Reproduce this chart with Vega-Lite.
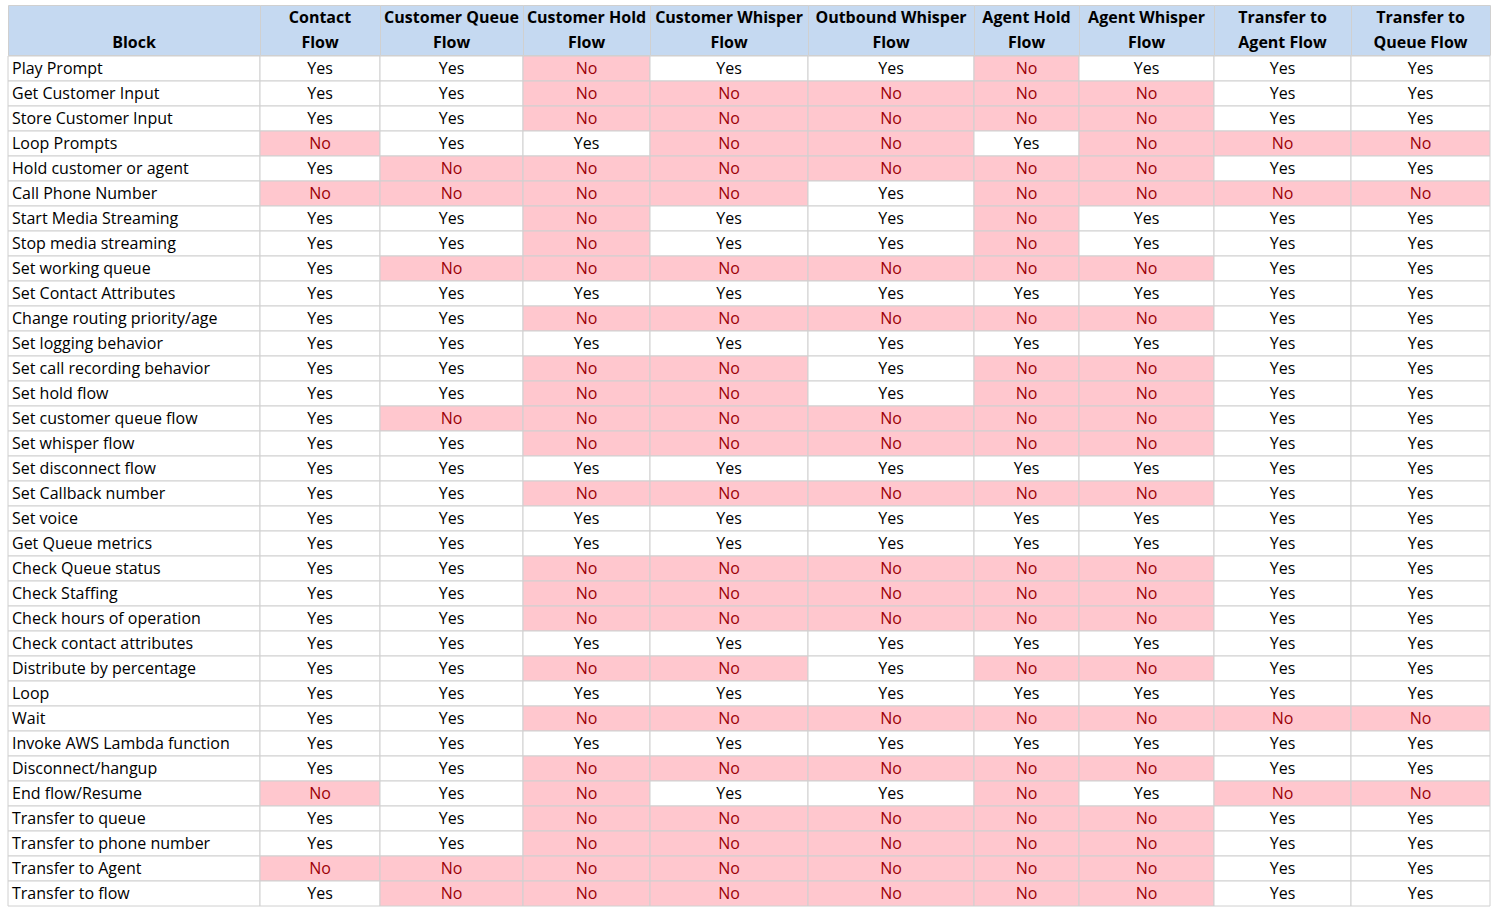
{
  "$schema": "https://vega.github.io/schema/vega-lite/v6.json",
  "padding": {"left": 7, "top": 4, "right": 0, "bottom": 0},
  "background": "white",
  "spacing": -2,
  "config": {
    "view": {"stroke": null},
    "concat": {"spacing": 0},
    "text": {"font": "Open Sans", "fontSize": 16}
  },
  "datasets": {
    "header": [
      {"Column": "Block", "Line": 2, "Text": "Block"},
      {"Column": "Contact Flow", "Line": 1, "Text": "Contact"},
      {"Column": "Contact Flow", "Line": 2, "Text": "Flow"},
      {"Column": "Customer Queue Flow", "Line": 1, "Text": "Customer Queue"},
      {"Column": "Customer Queue Flow", "Line": 2, "Text": "Flow"},
      {"Column": "Customer Hold Flow", "Line": 1, "Text": "Customer Hold"},
      {"Column": "Customer Hold Flow", "Line": 2, "Text": "Flow"},
      {"Column": "Customer Whisper Flow", "Line": 1, "Text": "Customer Whisper"},
      {"Column": "Customer Whisper Flow", "Line": 2, "Text": "Flow"},
      {"Column": "Outbound Whisper Flow", "Line": 1, "Text": "Outbound Whisper"},
      {"Column": "Outbound Whisper Flow", "Line": 2, "Text": "Flow"},
      {"Column": "Agent Hold Flow", "Line": 1, "Text": "Agent Hold"},
      {"Column": "Agent Hold Flow", "Line": 2, "Text": "Flow"},
      {"Column": "Agent Whisper Flow", "Line": 1, "Text": "Agent Whisper"},
      {"Column": "Agent Whisper Flow", "Line": 2, "Text": "Flow"},
      {"Column": "Transfer to Agent Flow", "Line": 1, "Text": "Transfer to"},
      {"Column": "Transfer to Agent Flow", "Line": 2, "Text": "Agent Flow"},
      {"Column": "Transfer to Queue Flow", "Line": 1, "Text": "Transfer to"},
      {"Column": "Transfer to Queue Flow", "Line": 2, "Text": "Queue Flow"}
    ],
    "table": [
      {"Block": "Play Prompt", "CF": "Yes", "CQ": "Yes", "CH": "No", "CW": "Yes", "OW": "Yes", "AH": "No", "AW": "Yes", "TA": "Yes", "TQ": "Yes"},
      {"Block": "Get Customer Input", "CF": "Yes", "CQ": "Yes", "CH": "No", "CW": "No", "OW": "No", "AH": "No", "AW": "No", "TA": "Yes", "TQ": "Yes"},
      {"Block": "Store Customer Input", "CF": "Yes", "CQ": "Yes", "CH": "No", "CW": "No", "OW": "No", "AH": "No", "AW": "No", "TA": "Yes", "TQ": "Yes"},
      {"Block": "Loop Prompts", "CF": "No", "CQ": "Yes", "CH": "Yes", "CW": "No", "OW": "No", "AH": "Yes", "AW": "No", "TA": "No", "TQ": "No"},
      {"Block": "Hold customer or agent", "CF": "Yes", "CQ": "No", "CH": "No", "CW": "No", "OW": "No", "AH": "No", "AW": "No", "TA": "Yes", "TQ": "Yes"},
      {"Block": "Call Phone Number", "CF": "No", "CQ": "No", "CH": "No", "CW": "No", "OW": "Yes", "AH": "No", "AW": "No", "TA": "No", "TQ": "No"},
      {"Block": "Start Media Streaming", "CF": "Yes", "CQ": "Yes", "CH": "No", "CW": "Yes", "OW": "Yes", "AH": "No", "AW": "Yes", "TA": "Yes", "TQ": "Yes"},
      {"Block": "Stop media streaming", "CF": "Yes", "CQ": "Yes", "CH": "No", "CW": "Yes", "OW": "Yes", "AH": "No", "AW": "Yes", "TA": "Yes", "TQ": "Yes"},
      {"Block": "Set working queue", "CF": "Yes", "CQ": "No", "CH": "No", "CW": "No", "OW": "No", "AH": "No", "AW": "No", "TA": "Yes", "TQ": "Yes"},
      {"Block": "Set Contact Attributes", "CF": "Yes", "CQ": "Yes", "CH": "Yes", "CW": "Yes", "OW": "Yes", "AH": "Yes", "AW": "Yes", "TA": "Yes", "TQ": "Yes"},
      {"Block": "Change routing priority/age", "CF": "Yes", "CQ": "Yes", "CH": "No", "CW": "No", "OW": "No", "AH": "No", "AW": "No", "TA": "Yes", "TQ": "Yes"},
      {"Block": "Set logging behavior", "CF": "Yes", "CQ": "Yes", "CH": "Yes", "CW": "Yes", "OW": "Yes", "AH": "Yes", "AW": "Yes", "TA": "Yes", "TQ": "Yes"},
      {"Block": "Set call recording behavior", "CF": "Yes", "CQ": "Yes", "CH": "No", "CW": "No", "OW": "Yes", "AH": "No", "AW": "No", "TA": "Yes", "TQ": "Yes"},
      {"Block": "Set hold flow", "CF": "Yes", "CQ": "Yes", "CH": "No", "CW": "No", "OW": "Yes", "AH": "No", "AW": "No", "TA": "Yes", "TQ": "Yes"},
      {"Block": "Set customer queue flow", "CF": "Yes", "CQ": "No", "CH": "No", "CW": "No", "OW": "No", "AH": "No", "AW": "No", "TA": "Yes", "TQ": "Yes"},
      {"Block": "Set whisper flow", "CF": "Yes", "CQ": "Yes", "CH": "No", "CW": "No", "OW": "No", "AH": "No", "AW": "No", "TA": "Yes", "TQ": "Yes"},
      {"Block": "Set disconnect flow", "CF": "Yes", "CQ": "Yes", "CH": "Yes", "CW": "Yes", "OW": "Yes", "AH": "Yes", "AW": "Yes", "TA": "Yes", "TQ": "Yes"},
      {"Block": "Set Callback number", "CF": "Yes", "CQ": "Yes", "CH": "No", "CW": "No", "OW": "No", "AH": "No", "AW": "No", "TA": "Yes", "TQ": "Yes"},
      {"Block": "Set voice", "CF": "Yes", "CQ": "Yes", "CH": "Yes", "CW": "Yes", "OW": "Yes", "AH": "Yes", "AW": "Yes", "TA": "Yes", "TQ": "Yes"},
      {"Block": "Get Queue metrics", "CF": "Yes", "CQ": "Yes", "CH": "Yes", "CW": "Yes", "OW": "Yes", "AH": "Yes", "AW": "Yes", "TA": "Yes", "TQ": "Yes"},
      {"Block": "Check Queue status", "CF": "Yes", "CQ": "Yes", "CH": "No", "CW": "No", "OW": "No", "AH": "No", "AW": "No", "TA": "Yes", "TQ": "Yes"},
      {"Block": "Check Staffing", "CF": "Yes", "CQ": "Yes", "CH": "No", "CW": "No", "OW": "No", "AH": "No", "AW": "No", "TA": "Yes", "TQ": "Yes"},
      {"Block": "Check hours of operation", "CF": "Yes", "CQ": "Yes", "CH": "No", "CW": "No", "OW": "No", "AH": "No", "AW": "No", "TA": "Yes", "TQ": "Yes"},
      {"Block": "Check contact attributes", "CF": "Yes", "CQ": "Yes", "CH": "Yes", "CW": "Yes", "OW": "Yes", "AH": "Yes", "AW": "Yes", "TA": "Yes", "TQ": "Yes"},
      {"Block": "Distribute by percentage", "CF": "Yes", "CQ": "Yes", "CH": "No", "CW": "No", "OW": "Yes", "AH": "No", "AW": "No", "TA": "Yes", "TQ": "Yes"},
      {"Block": "Loop", "CF": "Yes", "CQ": "Yes", "CH": "Yes", "CW": "Yes", "OW": "Yes", "AH": "Yes", "AW": "Yes", "TA": "Yes", "TQ": "Yes"},
      {"Block": "Wait", "CF": "Yes", "CQ": "Yes", "CH": "No", "CW": "No", "OW": "No", "AH": "No", "AW": "No", "TA": "No", "TQ": "No"},
      {"Block": "Invoke AWS Lambda function", "CF": "Yes", "CQ": "Yes", "CH": "Yes", "CW": "Yes", "OW": "Yes", "AH": "Yes", "AW": "Yes", "TA": "Yes", "TQ": "Yes"},
      {"Block": "Disconnect/hangup", "CF": "Yes", "CQ": "Yes", "CH": "No", "CW": "No", "OW": "No", "AH": "No", "AW": "No", "TA": "Yes", "TQ": "Yes"},
      {"Block": "End flow/Resume", "CF": "No", "CQ": "Yes", "CH": "No", "CW": "Yes", "OW": "Yes", "AH": "No", "AW": "Yes", "TA": "No", "TQ": "No"},
      {"Block": "Transfer to queue", "CF": "Yes", "CQ": "Yes", "CH": "No", "CW": "No", "OW": "No", "AH": "No", "AW": "No", "TA": "Yes", "TQ": "Yes"},
      {"Block": "Transfer to phone number", "CF": "Yes", "CQ": "Yes", "CH": "No", "CW": "No", "OW": "No", "AH": "No", "AW": "No", "TA": "Yes", "TQ": "Yes"},
      {"Block": "Transfer to Agent", "CF": "No", "CQ": "No", "CH": "No", "CW": "No", "OW": "No", "AH": "No", "AW": "No", "TA": "Yes", "TQ": "Yes"},
      {"Block": "Transfer to flow", "CF": "Yes", "CQ": "No", "CH": "No", "CW": "No", "OW": "No", "AH": "No", "AW": "No", "TA": "Yes", "TQ": "Yes"}
    ]
  },
  "vconcat": [
    {
      "bounds": "flush",
      "hconcat": [
        {"width": 252, "height": 50, "view": {"fill": "#c5d9f1", "stroke": "#d0d0d0"}, "data": {"name": "header"}, "transform": [{"filter": "datum.Column == 'Block'"}], "mark": {"type": "text", "fontWeight": "bold"}, "encoding": {"y": {"field": "Line", "type": "ordinal", "scale": {"domain": [1, 2]}, "axis": null}, "text": {"field": "Text"}}},
        {"width": 120, "height": 50, "view": {"fill": "#c5d9f1", "stroke": "#d0d0d0"}, "data": {"name": "header"}, "transform": [{"filter": "datum.Column == 'Contact Flow'"}], "mark": {"type": "text", "fontWeight": "bold"}, "encoding": {"y": {"field": "Line", "type": "ordinal", "scale": {"domain": [1, 2]}, "axis": null}, "text": {"field": "Text"}}},
        {"width": 143, "height": 50, "view": {"fill": "#c5d9f1", "stroke": "#d0d0d0"}, "data": {"name": "header"}, "transform": [{"filter": "datum.Column == 'Customer Queue Flow'"}], "mark": {"type": "text", "fontWeight": "bold"}, "encoding": {"y": {"field": "Line", "type": "ordinal", "scale": {"domain": [1, 2]}, "axis": null}, "text": {"field": "Text"}}},
        {"width": 127, "height": 50, "view": {"fill": "#c5d9f1", "stroke": "#d0d0d0"}, "data": {"name": "header"}, "transform": [{"filter": "datum.Column == 'Customer Hold Flow'"}], "mark": {"type": "text", "fontWeight": "bold"}, "encoding": {"y": {"field": "Line", "type": "ordinal", "scale": {"domain": [1, 2]}, "axis": null}, "text": {"field": "Text"}}},
        {"width": 158, "height": 50, "view": {"fill": "#c5d9f1", "stroke": "#d0d0d0"}, "data": {"name": "header"}, "transform": [{"filter": "datum.Column == 'Customer Whisper Flow'"}], "mark": {"type": "text", "fontWeight": "bold"}, "encoding": {"y": {"field": "Line", "type": "ordinal", "scale": {"domain": [1, 2]}, "axis": null}, "text": {"field": "Text"}}},
        {"width": 166, "height": 50, "view": {"fill": "#c5d9f1", "stroke": "#d0d0d0"}, "data": {"name": "header"}, "transform": [{"filter": "datum.Column == 'Outbound Whisper Flow'"}], "mark": {"type": "text", "fontWeight": "bold"}, "encoding": {"y": {"field": "Line", "type": "ordinal", "scale": {"domain": [1, 2]}, "axis": null}, "text": {"field": "Text"}}},
        {"width": 105, "height": 50, "view": {"fill": "#c5d9f1", "stroke": "#d0d0d0"}, "data": {"name": "header"}, "transform": [{"filter": "datum.Column == 'Agent Hold Flow'"}], "mark": {"type": "text", "fontWeight": "bold"}, "encoding": {"y": {"field": "Line", "type": "ordinal", "scale": {"domain": [1, 2]}, "axis": null}, "text": {"field": "Text"}}},
        {"width": 135, "height": 50, "view": {"fill": "#c5d9f1", "stroke": "#d0d0d0"}, "data": {"name": "header"}, "transform": [{"filter": "datum.Column == 'Agent Whisper Flow'"}], "mark": {"type": "text", "fontWeight": "bold"}, "encoding": {"y": {"field": "Line", "type": "ordinal", "scale": {"domain": [1, 2]}, "axis": null}, "text": {"field": "Text"}}},
        {"width": 137, "height": 50, "view": {"fill": "#c5d9f1", "stroke": "#d0d0d0"}, "data": {"name": "header"}, "transform": [{"filter": "datum.Column == 'Transfer to Agent Flow'"}], "mark": {"type": "text", "fontWeight": "bold"}, "encoding": {"y": {"field": "Line", "type": "ordinal", "scale": {"domain": [1, 2]}, "axis": null}, "text": {"field": "Text"}}},
        {"width": 139, "height": 50, "view": {"fill": "#c5d9f1", "stroke": "#d0d0d0"}, "data": {"name": "header"}, "transform": [{"filter": "datum.Column == 'Transfer to Queue Flow'"}], "mark": {"type": "text", "fontWeight": "bold"}, "encoding": {"y": {"field": "Line", "type": "ordinal", "scale": {"domain": [1, 2]}, "axis": null}, "text": {"field": "Text"}}}
      ]
    },
    {
      "bounds": "flush",
      "hconcat": [
        {"width": 252, "height": 850, "data": {"name": "table"}, "encoding": {"y": {"field": "Block", "type": "nominal", "sort": null, "axis": null}}, "layer": [
          {"mark": {"type": "rect", "fill": "white", "stroke": "#d0d0d0", "strokeWidth": 1}},
          {"mark": {"type": "text", "align": "left", "dx": -122}, "encoding": {"text": {"field": "Block"}}}
        ]},
        {"width": 120, "height": 850, "data": {"name": "table"}, "encoding": {"y": {"field": "Block", "type": "nominal", "sort": null, "axis": null}}, "layer": [
          {"mark": {"type": "rect", "stroke": "#d0d0d0", "strokeWidth": 1}, "encoding": {"color": {"field": "CF", "type": "nominal", "scale": {"domain": ["Yes", "No"], "range": ["#ffffff", "#ffc7ce"]}, "legend": null}}},
          {"mark": {"type": "text"}, "encoding": {"text": {"field": "CF"}, "color": {"field": "CF", "type": "nominal", "scale": {"domain": ["Yes", "No"], "range": ["#000000", "#9c0006"]}, "legend": null}}}
        ], "resolve": {"scale": {"color": "independent"}}},
        {"width": 143, "height": 850, "data": {"name": "table"}, "encoding": {"y": {"field": "Block", "type": "nominal", "sort": null, "axis": null}}, "layer": [
          {"mark": {"type": "rect", "stroke": "#d0d0d0", "strokeWidth": 1}, "encoding": {"color": {"field": "CQ", "type": "nominal", "scale": {"domain": ["Yes", "No"], "range": ["#ffffff", "#ffc7ce"]}, "legend": null}}},
          {"mark": {"type": "text"}, "encoding": {"text": {"field": "CQ"}, "color": {"field": "CQ", "type": "nominal", "scale": {"domain": ["Yes", "No"], "range": ["#000000", "#9c0006"]}, "legend": null}}}
        ], "resolve": {"scale": {"color": "independent"}}},
        {"width": 127, "height": 850, "data": {"name": "table"}, "encoding": {"y": {"field": "Block", "type": "nominal", "sort": null, "axis": null}}, "layer": [
          {"mark": {"type": "rect", "stroke": "#d0d0d0", "strokeWidth": 1}, "encoding": {"color": {"field": "CH", "type": "nominal", "scale": {"domain": ["Yes", "No"], "range": ["#ffffff", "#ffc7ce"]}, "legend": null}}},
          {"mark": {"type": "text"}, "encoding": {"text": {"field": "CH"}, "color": {"field": "CH", "type": "nominal", "scale": {"domain": ["Yes", "No"], "range": ["#000000", "#9c0006"]}, "legend": null}}}
        ], "resolve": {"scale": {"color": "independent"}}},
        {"width": 158, "height": 850, "data": {"name": "table"}, "encoding": {"y": {"field": "Block", "type": "nominal", "sort": null, "axis": null}}, "layer": [
          {"mark": {"type": "rect", "stroke": "#d0d0d0", "strokeWidth": 1}, "encoding": {"color": {"field": "CW", "type": "nominal", "scale": {"domain": ["Yes", "No"], "range": ["#ffffff", "#ffc7ce"]}, "legend": null}}},
          {"mark": {"type": "text"}, "encoding": {"text": {"field": "CW"}, "color": {"field": "CW", "type": "nominal", "scale": {"domain": ["Yes", "No"], "range": ["#000000", "#9c0006"]}, "legend": null}}}
        ], "resolve": {"scale": {"color": "independent"}}},
        {"width": 166, "height": 850, "data": {"name": "table"}, "encoding": {"y": {"field": "Block", "type": "nominal", "sort": null, "axis": null}}, "layer": [
          {"mark": {"type": "rect", "stroke": "#d0d0d0", "strokeWidth": 1}, "encoding": {"color": {"field": "OW", "type": "nominal", "scale": {"domain": ["Yes", "No"], "range": ["#ffffff", "#ffc7ce"]}, "legend": null}}},
          {"mark": {"type": "text"}, "encoding": {"text": {"field": "OW"}, "color": {"field": "OW", "type": "nominal", "scale": {"domain": ["Yes", "No"], "range": ["#000000", "#9c0006"]}, "legend": null}}}
        ], "resolve": {"scale": {"color": "independent"}}},
        {"width": 105, "height": 850, "data": {"name": "table"}, "encoding": {"y": {"field": "Block", "type": "nominal", "sort": null, "axis": null}}, "layer": [
          {"mark": {"type": "rect", "stroke": "#d0d0d0", "strokeWidth": 1}, "encoding": {"color": {"field": "AH", "type": "nominal", "scale": {"domain": ["Yes", "No"], "range": ["#ffffff", "#ffc7ce"]}, "legend": null}}},
          {"mark": {"type": "text"}, "encoding": {"text": {"field": "AH"}, "color": {"field": "AH", "type": "nominal", "scale": {"domain": ["Yes", "No"], "range": ["#000000", "#9c0006"]}, "legend": null}}}
        ], "resolve": {"scale": {"color": "independent"}}},
        {"width": 135, "height": 850, "data": {"name": "table"}, "encoding": {"y": {"field": "Block", "type": "nominal", "sort": null, "axis": null}}, "layer": [
          {"mark": {"type": "rect", "stroke": "#d0d0d0", "strokeWidth": 1}, "encoding": {"color": {"field": "AW", "type": "nominal", "scale": {"domain": ["Yes", "No"], "range": ["#ffffff", "#ffc7ce"]}, "legend": null}}},
          {"mark": {"type": "text"}, "encoding": {"text": {"field": "AW"}, "color": {"field": "AW", "type": "nominal", "scale": {"domain": ["Yes", "No"], "range": ["#000000", "#9c0006"]}, "legend": null}}}
        ], "resolve": {"scale": {"color": "independent"}}},
        {"width": 137, "height": 850, "data": {"name": "table"}, "encoding": {"y": {"field": "Block", "type": "nominal", "sort": null, "axis": null}}, "layer": [
          {"mark": {"type": "rect", "stroke": "#d0d0d0", "strokeWidth": 1}, "encoding": {"color": {"field": "TA", "type": "nominal", "scale": {"domain": ["Yes", "No"], "range": ["#ffffff", "#ffc7ce"]}, "legend": null}}},
          {"mark": {"type": "text"}, "encoding": {"text": {"field": "TA"}, "color": {"field": "TA", "type": "nominal", "scale": {"domain": ["Yes", "No"], "range": ["#000000", "#9c0006"]}, "legend": null}}}
        ], "resolve": {"scale": {"color": "independent"}}},
        {"width": 139, "height": 850, "data": {"name": "table"}, "encoding": {"y": {"field": "Block", "type": "nominal", "sort": null, "axis": null}}, "layer": [
          {"mark": {"type": "rect", "stroke": "#d0d0d0", "strokeWidth": 1}, "encoding": {"color": {"field": "TQ", "type": "nominal", "scale": {"domain": ["Yes", "No"], "range": ["#ffffff", "#ffc7ce"]}, "legend": null}}},
          {"mark": {"type": "text"}, "encoding": {"text": {"field": "TQ"}, "color": {"field": "TQ", "type": "nominal", "scale": {"domain": ["Yes", "No"], "range": ["#000000", "#9c0006"]}, "legend": null}}}
        ], "resolve": {"scale": {"color": "independent"}}}
      ]
    }
  ]
}
